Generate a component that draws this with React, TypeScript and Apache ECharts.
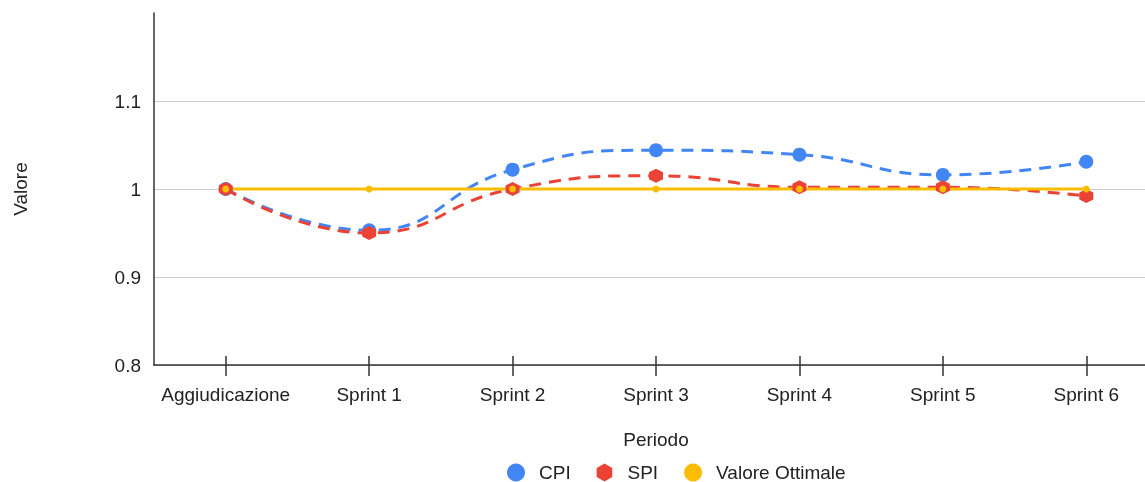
import React, { useEffect, useRef } from "react";
import * as echarts from "echarts";

const categories = ["Aggiudicazione", "Sprint 1", "Sprint 2", "Sprint 3", "Sprint 4", "Sprint 5", "Sprint 6"];
const cpiValues = [1.0, 0.953, 1.022, 1.044, 1.039, 1.016, 1.031];
const spiValues = [1.0, 0.95, 1.0, 1.015, 1.002, 1.002, 0.992];
const optimalValues = [1, 1, 1, 1, 1, 1, 1];
const yTicks = [0.8, 0.9, 1.0, 1.1];

const FONT = "Arial, 'Liberation Sans', sans-serif";
const FS = 19;
const HEX = "path://M0,-1 L0.866,-0.5 L0.866,0.5 L0,1 L-0.866,0.5 L-0.866,-0.5 Z";

export default function App() {
  const ref = useRef<HTMLDivElement>(null);
  useEffect(() => {
    if (!ref.current) return;
    const chart = echarts.init(ref.current, null, { renderer: "svg" });
    chart.setOption({
      animation: false,
      textStyle: { fontFamily: FONT },
      grid: { left: 154, right: -13, top: 13, bottom: 117, containLabel: false, outerBoundsMode: "none" },
      legend: {
        bottom: 0,
        left: 507,
        padding: 0,
        itemWidth: 18,
        itemHeight: 18,
        itemGap: 26,
        textStyle: { fontSize: FS, lineHeight: 19, color: "#222", fontFamily: FONT, padding: [0, 0, 0, 9] },
        data: [
          { name: "CPI", icon: "circle" },
          { name: "SPI", icon: HEX },
          { name: "Valore Ottimale", icon: "circle" },
        ],
      },
      xAxis: [
        {
          type: "category",
          data: categories,
          name: "Periodo",
          nameLocation: "middle",
          nameGap: 65,
          nameTextStyle: { fontSize: FS, color: "#222", fontFamily: FONT },
          axisLine: { show: true, lineStyle: { color: "#333", width: 1.5 } },
          axisTick: { show: true, alignWithLabel: true, length: 11, lineStyle: { color: "#333", width: 1.5 } },
          axisLabel: { show: true, interval: 0, fontSize: FS, color: "#222", margin: 20, fontFamily: FONT },
        },
        {
          type: "category",
          data: categories,
          position: "bottom",
          axisLine: { show: false },
          axisTick: { show: true, alignWithLabel: true, inside: true, length: 9, lineStyle: { color: "#333", width: 1.5 } },
          axisLabel: { show: false },
        },
      ],
      yAxis: {
        type: "value",
        min: 0.8,
        max: 1.2,
        interval: 0.1,
        name: "Valore",
        nameLocation: "middle",
        nameGap: 124,
        nameTextStyle: { fontSize: FS, color: "#222", fontFamily: FONT },
        axisLine: { show: true, lineStyle: { color: "#333", width: 1.5 } },
        axisTick: { show: false },
        axisLabel: {
          fontSize: FS,
          color: "#222",
          margin: 13,
          fontFamily: FONT,
          formatter: (v: number) => {
            const t = yTicks.find((x) => Math.abs(x - v) < 1e-6);
            return t === undefined ? "" : String(Math.round(t * 10) / 10);
          },
        },
        splitLine: { show: true, lineStyle: { color: ["#cccccc", "#cccccc", "#cccccc", "#cccccc", "transparent"], width: 1 } },
      },
      series: [
        {
          name: "CPI",
          type: "line",
          data: cpiValues,
          smooth: 0.5,
          symbol: "circle",
          symbolSize: 14,
          itemStyle: { color: "#4285F4" },
          lineStyle: { color: "#4285F4", width: 3, type: [12, 8] },
        },
        {
          name: "SPI",
          type: "line",
          data: spiValues,
          smooth: 0.5,
          symbol: HEX,
          symbolSize: 14,
          itemStyle: { color: "#EA4335" },
          lineStyle: { color: "#EA4335", width: 3, type: [12, 8] },
        },
        {
          name: "Valore Ottimale",
          type: "line",
          data: optimalValues,
          symbol: "circle",
          symbolSize: 7,
          itemStyle: { color: "#FBBC04" },
          lineStyle: { color: "#FBBC04", width: 3 },
        },
      ],
    });
    return () => chart.dispose();
  }, []);
  return <div ref={ref} style={{ position: "fixed", left: 0, top: 0, width: 1145, height: 482 }} />;
}
